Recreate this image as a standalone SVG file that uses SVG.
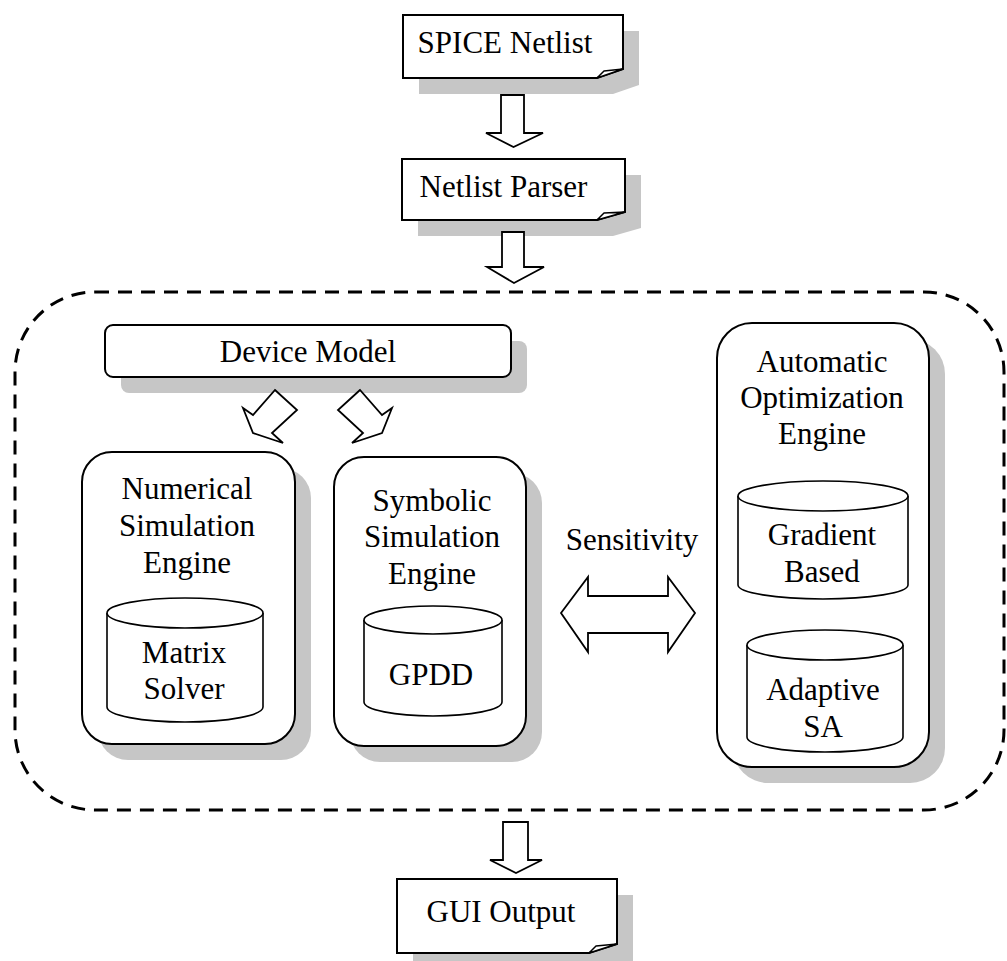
<svg xmlns="http://www.w3.org/2000/svg" width="1007" height="961" viewBox="0 0 1007 961">
<style>
  text { font-family: "Liberation Serif", "Times New Roman", serif; font-size: 31px; fill: #000; text-anchor: middle; }
  .box { fill: #fff; stroke: #000; stroke-width: 2; }
  .shadow { fill: #c6c6c6; stroke: none; }
  .cyl { fill: #fff; stroke: #000; stroke-width: 1.6; }
  .arrow { fill: #fff; stroke: #000; stroke-width: 1.8; stroke-linejoin: miter; }
  .flap { fill: #fff; stroke: #000; stroke-width: 1.5; stroke-linejoin: round; }
  .dash { fill: none; stroke: #000; stroke-width: 3; stroke-dasharray: 14 9; }
</style>
<rect width="1007" height="961" fill="#fff"/>

<g id="boundary">
  <rect class="dash" x="15" y="292" width="989" height="518" rx="80" ry="80"/>
</g>

<g id="spice-netlist">
  <path class="shadow" d="M419,31 H639 V85 L613,94 H419 Z"/>
  <path class="box" d="M403,15 H623 V69 L597,78 H403 Z"/>
  <path class="flap" d="M597,78 L604,71 L623,69 Z"/>
  <text x="505" y="53">SPICE Netlist</text>
</g>

<g id="netlist-parser">
  <path class="shadow" d="M418,175 H641 V228 L613,236 H418 Z"/>
  <path class="box" d="M402,159 H625 V212 L597,220 H402 Z"/>
  <path class="flap" d="M597,220 L604,213 L625,212 Z"/>
  <text x="503.5" y="197">Netlist Parser</text>
</g>

<g id="gui-output">
  <path class="shadow" d="M413,895 H633 V961 H413 Z"/>
  <path class="box" d="M397,879 H617 V944 L589,953 H397 Z"/>
  <path class="flap" d="M589,953 L596,946 L617,944 Z"/>
  <text x="501" y="922">GUI Output</text>
</g>

<g id="device-model">
  <rect class="shadow" x="121" y="341" width="406" height="52" rx="8"/>
  <rect class="box" x="105" y="325" width="406" height="52" rx="8"/>
  <text x="308" y="362">Device Model</text>
</g>

<g id="numerical-engine">
  <rect class="shadow" x="98" y="468" width="213" height="292" rx="30"/>
  <rect class="box" x="82" y="452" width="213" height="292" rx="30"/>
  <text x="187" y="499">Numerical</text>
  <text x="187" y="536">Simulation</text>
  <text x="187" y="573">Engine</text>
</g>

<g id="matrix-solver">
  <path class="cyl" d="M107,613 V707 A78,15 0 0 0 263,707 V613"/>
  <ellipse class="cyl" cx="185" cy="613" rx="78" ry="15"/>
  <text x="184" y="663">Matrix</text>
  <text x="184" y="699">Solver</text>
</g>

<g id="symbolic-engine">
  <rect class="shadow" x="350" y="473" width="192" height="289" rx="30"/>
  <rect class="box" x="334" y="457" width="192" height="289" rx="30"/>
  <text x="432" y="511">Symbolic</text>
  <text x="432" y="547">Simulation</text>
  <text x="432" y="584">Engine</text>
</g>

<g id="gpdd">
  <path class="cyl" d="M364,620 V702 A69,14 0 0 0 502,702 V620"/>
  <ellipse class="cyl" cx="433" cy="620" rx="69" ry="14"/>
  <text x="431" y="685">GPDD</text>
</g>

<g id="optimization-engine">
  <rect class="shadow" x="733" y="339" width="212" height="444" rx="35"/>
  <rect class="box" x="717" y="323" width="212" height="444" rx="35"/>
  <text x="822" y="372">Automatic</text>
  <text x="822" y="408">Optimization</text>
  <text x="822" y="444">Engine</text>
</g>

<g id="gradient-based">
  <path class="cyl" d="M738,496 V585 A85,14 0 0 0 908,585 V496"/>
  <ellipse class="cyl" cx="823" cy="496" rx="85" ry="15"/>
  <text x="822" y="545">Gradient</text>
  <text x="822" y="582">Based</text>
</g>

<g id="adaptive-sa">
  <path class="cyl" d="M747,645 V737 A78,15 0 0 0 903,737 V645"/>
  <ellipse class="cyl" cx="825" cy="645" rx="78" ry="15"/>
  <text x="823" y="700">Adaptive</text>
  <text x="823" y="737">SA</text>
</g>

<g id="connectors">
  <polygon class="arrow" points="501,95 524,95 524,133 543,133 513.5,147 486,133 501,133"/>
  <polygon class="arrow" points="502,232 524,232 524,267 544,267 514,283 487,267 502,267"/>
  <polygon class="arrow" points="275,390 297,410 272,433 283,443 253,433 243,408 253,415"/>
  <polygon class="arrow" points="360,390 338,410 363,433 352,443 382,433 392,408 382,415"/>
  <polygon class="arrow" points="561,613 588,577 588,596 668,596 668,577 695,613 668,652 668,633 588,633 588,652"/>
  <text x="632" y="550">Sensitivity</text>
  <polygon class="arrow" points="503,822 528,822 528,860 542,860 516,873 490,860 503,860"/>
</g>
</svg>
